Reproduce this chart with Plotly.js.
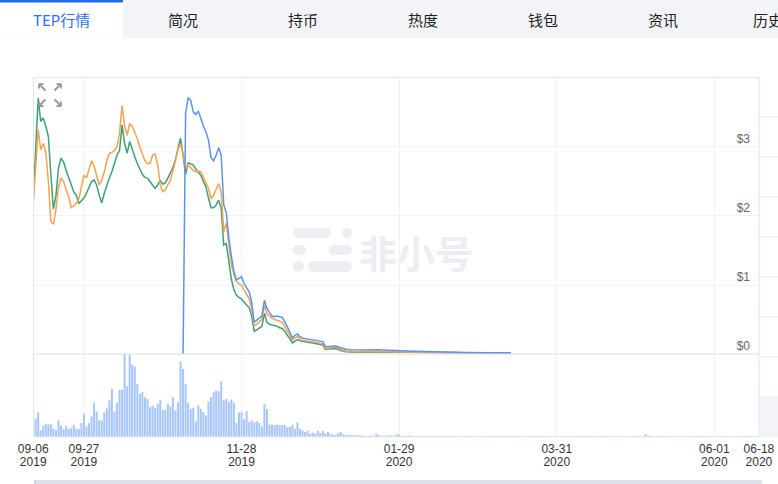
<!DOCTYPE html>
<html><head><meta charset="utf-8">
<script src="https://cdn.plot.ly/plotly-3.0.1.min.js"></script>
<style>html,body{margin:0;padding:0;background:#fff;overflow:hidden}#chart{width:778px;height:484px}</style>
</head><body><div id="chart"></div>
<script>
// ---------------- DATA ----------------
// daily price values start 2019-09-07 (107 days), followed by sparse dates
const dailyStartGO = '2019-09-07';
const dailyStartBlue = '2019-11-05';
const sparseDates = ['2019-12-24','2019-12-26','2019-12-28','2019-12-30','2019-12-31','2020-01-02','2020-01-04','2020-01-06','2020-01-08','2020-01-10','2020-01-12','2020-01-16','2020-01-20','2020-01-25','2020-01-30','2020-02-04','2020-02-10','2020-02-17','2020-02-24','2020-03-05','2020-03-13'];

const greenDaily = [2.20,3.00,3.71,3.37,3.42,3.30,3.15,2.59,2.10,2.30,
 2.70,2.84,2.78,2.66,2.55,2.45,2.35,2.30,2.18,2.22,
 2.26,2.33,2.42,2.50,2.52,2.45,2.30,2.19,2.33,2.45,
 2.55,2.64,2.78,2.88,2.95,3.32,3.05,2.91,3.08,2.95,
 2.86,2.76,2.68,2.60,2.56,2.55,2.50,2.45,2.40,2.45,
 2.52,2.46,2.48,2.55,2.62,2.70,2.82,2.98,3.13,2.88,
 2.60,2.77,2.76,2.74,2.68,2.64,2.59,2.50,2.42,2.26,
 2.12,2.12,2.16,2.23,2.11,1.58,1.60,1.35,1.08,0.93,
 0.85,0.82,0.80,0.75,0.71,0.67,0.55,0.33,0.35,0.37,
 0.40,0.59,0.46,0.43,0.42,0.42,0.40,0.38,0.37,0.33,
 0.28,0.22,0.16,0.19,0.21,0.19,0.18];
const greenSparse = [0.17,0.16,0.145,0.13,0.07,0.075,0.08,0.05,0.033,0.03,0.025,0.027,0.03,0.026,0.024,0.022,0.017,0.016,0.015,0.014,0.013];

const orangeDaily = [2.15,2.75,3.25,2.96,3.05,2.92,2.50,1.92,1.88,2.10,
 2.42,2.55,2.50,2.38,2.28,2.12,2.15,2.18,2.25,2.45,
 2.59,2.55,2.68,2.80,2.72,2.60,2.45,2.52,2.64,2.80,
 2.91,2.92,2.95,3.00,3.20,3.60,3.30,3.17,3.34,3.30,
 3.22,3.12,3.00,2.90,2.80,2.76,2.76,2.88,2.90,2.75,
 2.45,2.35,2.38,2.45,2.52,2.65,2.82,2.96,3.05,2.90,
 2.68,2.74,2.70,2.66,2.64,2.65,2.64,2.55,2.48,2.40,
 2.25,2.30,2.38,2.47,2.35,1.77,1.90,1.55,1.30,1.15,
 1.05,1.02,1.00,0.93,0.86,0.80,0.65,0.41,0.43,0.46,
 0.50,0.71,0.58,0.55,0.52,0.50,0.49,0.48,0.46,0.40,
 0.33,0.27,0.20,0.23,0.25,0.22,0.20];
const orangeSparse = [0.19,0.18,0.165,0.145,0.08,0.09,0.10,0.065,0.043,0.038,0.033,0.035,0.036,0.034,0.03,0.026,0.022,0.02,0.018,0.016,0.015];

const blueDaily = [0,3.49,3.71,3.68,3.51,3.47,3.52,3.40,3.30,3.22,
 3.10,2.85,2.80,2.88,2.99,2.88,2.16,2.05,1.68,1.42,
 1.20,1.07,1.10,1.12,1.02,0.95,0.90,0.75,0.46,0.49,
 0.52,0.55,0.78,0.66,0.60,0.55,0.54,0.55,0.54,0.53,
 0.47,0.40,0.32,0.23,0.27,0.29,0.25,0.23];
const blueSparse = [0.22,0.20,0.19,0.18,0.106,0.11,0.116,0.09,0.068,0.062,0.058,0.058,0.06,0.058,0.048,0.04,0.033,0.025,0.022,0.019,0.017];

// daily volume from 2019-09-07 to 2020-06-18 (relative units)
const volumeStart = '2019-09-07';
const volume = [
 92,55,74,20,34,40,38,38,25,20, 50,34,23,34,25,28,36,25,24,42,
 70,32,42,62,103,77,50,50,74,86, 110,145,77,103,142,142,250,153,248,218,
 212,160,130,135,120,115,90,95,88,100, 112,82,82,100,92,120,80,105,227,205,
 160,102,85,88,47,95,85,75,64,107, 120,135,140,138,167,110,115,105,113,103,
 43,74,75,53,78,45,50,44,48,42, 31,99,84,38,37,36,38,36,36,36,
 30,30,36,24,44,24,20,15,19,10, 13,10,19,12,18,10,15,10,6,7,
 11,15,8,6,6,6,5,5,5,4, 4,3,4,4,4,10,6,4,4,4, 4,5,4,8,7,
 4,3,3,5,3,3,2,3,3,2,3,2,2,3,2,2,3,2,2,2,3,2,2,2,2,2,3,2,2,2,2,
 2,2,2,2,3,2,2,2,2,2,2,2,2,3,2,2,2,2,2,2,2,2,2,2,3,2,2,2,2,2,2,
 2,2,2,2,2,2,2,2,2,2,2,2,2,2,2,2,2,2,2,2,2,2,2,2,2,2,2,2,2,2,
 2,2,2,3,8,4,3,2,2,2,2,2,2,2,2,2,2,2,2,2,2,2,2,2,2,2,2,2,2,2,2,
 2,2,2,2,2,2,2,2,2,2,2,2,2,2,2,2,2,2];

const xRange = ['2019-09-06 23:00', '2020-06-18 14:00'];
const tickVals = ['2019-09-07 01:00','2019-09-27','2019-11-28','2020-01-29','2020-03-31','2020-06-01','2020-06-18 13:00'];
const tickDayText = ['09-06','09-27','11-28','01-29','03-31','06-01','06-18'];
const tickYearText = ['2019','2019','2019','2020','2020','2020','2020'];
const priceTickVals = [0,1,2,3];
const priceTickText = ['$0','$1','$2','$3'];
const tabs = ['TEP行情','简况','持币','热度','钱包','资讯','历史'];
const watermark = '非小号';

// ---------------- HELPERS ----------------
function dailyDates(start, n){
  const out=[]; const d=new Date(start+'T00:00:00Z');
  for(let i=0;i<n;i++){ const t=new Date(d.getTime()+i*86400000); out.push(t.toISOString().slice(0,10)); }
  return out;
}
const W=778,H=484;
const X=px=>px/W, Y=py=>1-py/H;

const goDates = dailyDates(dailyStartGO, greenDaily.length).concat(sparseDates);
const blueDates = dailyDates(dailyStartBlue, blueDaily.length).concat(sparseDates);
const volDates = dailyDates(volumeStart, volume.length);

const traces = [
  {type:'bar', x:volDates, y:volume, xaxis:'x2', yaxis:'y2', marker:{color:'#a9c6fa'}, hoverinfo:'skip'},
  {type:'scatter', mode:'lines', x:goDates, y:greenDaily.concat(greenSparse), line:{color:'#3f9f79', width:1.5}, hoverinfo:'skip'},
  {type:'scatter', mode:'lines', x:goDates, y:orangeDaily.concat(orangeSparse), line:{color:'#f7a24f', width:1.5}, hoverinfo:'skip'},
  {type:'scatter', mode:'lines', x:blueDates, y:blueDaily.concat(blueSparse), line:{color:'#5b93f2', width:1.5}, hoverinfo:'skip'},
  // invisible carrier so the year-label axis is drawn
  {type:'scatter', mode:'lines', x:xRange, y:[0,0], xaxis:'x3', yaxis:'y2', line:{width:0}, hoverinfo:'skip', showlegend:false}
];

const shapes = [];
const rect=(x0,y0,x1,y1,fill,layer)=>shapes.push({type:'rect',xref:'paper',yref:'paper',x0:X(x0),x1:X(x1),y0:Y(y1),y1:Y(y0),fillcolor:fill,line:{width:0},layer:layer||'below'});
const seg=(x0,y0,x1,y1,color,w)=>shapes.push({type:'line',xref:'paper',yref:'paper',x0:X(x0),x1:X(x1),y0:Y(y0),y1:Y(y1),line:{color:color,width:w||1},layer:'above'});
const hline=(x0,x1,y,color)=>seg(x0,y,x1,y,color);
const vline=(x,y0,y1,color)=>seg(x,y0,x,y1,color);
const circ=(x0,y0,x1,y1,fill)=>shapes.push({type:'circle',xref:'paper',yref:'paper',x0:X(x0),x1:X(x1),y0:Y(y1),y1:Y(y0),fillcolor:fill,line:{width:0},layer:'below'});
const pill=(x0,x1,y0,y1,fill)=>{const r=(y1-y0)/2; rect(x0+r,y0,x1-r,y1,fill); circ(x0,y0,x0+2*r,y1,fill); circ(x1-2*r,y0,x1,y1,fill);};

// tab bar
rect(0,0,778,38.5,'#f3f4f8');
rect(0,0,123,38.5,'#ffffff');
rect(0,0,123,2.5,'#1f6ef2');
// right-hand partial panel
rect(760,398,778,437,'#f3f4f8');
[117,157,197,237,277,317,357,397].forEach(y=>hline(760,778,y,'#e0e3eb'));
// watermark logo
const wm='#eceef3';
pill(293,331,228,238,wm); circ(342,228,352,238,wm);
pill(293,306,245,255,wm); pill(329,352,245,255,wm);
circ(293,261,304,272,wm); pill(308,352,261,272,wm);
// chart borders
hline(33,759,77.5,'#e4e6ee');
vline(33.5,77,437,'#e4e6ee');
vline(759,77,437,'#e0e2ec');
hline(33,759,354,'#d6dcea');
hline(33,759,437,'#eceef3');
// bottom slider
rect(34,480,762,484,'#dde2ea');
vline(35,480,484,'#c5cad4');
// expand icon (four corner arrows)
const ic='#8e98a6';
[[39,84,1,1],[61,84,-1,1],[39,106,1,-1],[61,106,-1,-1]].forEach(a=>{
  const [tx,ty,sx,sy]=a;
  seg(tx,ty,tx+sx*6.5,ty+sy*6.5,ic,1.8);
  seg(tx,ty,tx+sx*4.5,ty,ic,1.8);
  seg(tx,ty,tx,ty+sy*4.5,ic,1.8);
});

const annotations = [];
const tabX=[61,183,303,423,543,663,751];
tabs.forEach((t,i)=>annotations.push({xref:'paper',yref:'paper',x:X(tabX[i]),y:Y(20),text:t,showarrow:false,
  xanchor:i===tabs.length-1?'left':'center',yanchor:'middle',
  font:{family:'"Noto Sans CJK SC", sans-serif',size:15,color:i===0?'#2e6cf4':'#1e1e1e'}}));
annotations.push({xref:'paper',yref:'paper',x:X(416),y:Y(251),text:watermark,showarrow:false,xanchor:'center',yanchor:'middle',
  font:{family:'"Noto Sans CJK SC", sans-serif',size:38,color:'#eceef3',weight:700}});

const grid='#f1f2f5';
const tickFont={family:'"Liberation Sans", Arial, sans-serif', size:12, color:'#333'};
const layout = {
  width:W, height:H, margin:{l:0,r:0,t:0,b:0}, paper_bgcolor:'#ffffff', plot_bgcolor:'rgba(0,0,0,0)',
  showlegend:false, bargap:0.2,
  xaxis:{type:'date', domain:[X(33),X(759)], range:xRange, anchor:'y', tickvals:tickVals, showticklabels:false,
    showgrid:true, gridcolor:grid, zeroline:false, showline:false, ticks:''},
  yaxis:{domain:[Y(354),Y(77.5)], range:[0,4.007], anchor:'x', side:'right', tickvals:priceTickVals, ticktext:priceTickText,
    ticklabelposition:'inside top', tickfont:{family:'"Liberation Sans", Arial, sans-serif', size:12, color:'#666'},
    showgrid:true, gridcolor:grid, zeroline:false, showline:false, ticks:'', ticklabelstandoff:6},
  xaxis2:{type:'date', domain:[X(33),X(759)], range:xRange, anchor:'y2', tickvals:tickVals, ticktext:tickDayText,
    tickfont:tickFont, ticklabelstandoff:3,
    showgrid:true, gridcolor:grid, zeroline:false, showline:false, ticks:''},
  xaxis3:{type:'date', overlaying:'x2', anchor:'y2', side:'bottom', range:xRange, tickvals:tickVals, ticktext:tickYearText,
    tickfont:tickFont, ticklabelstandoff:16, showgrid:false, zeroline:false, showline:false, ticks:''},
  yaxis2:{domain:[Y(437),Y(354)], range:[0,250], anchor:'x2', showticklabels:false, showgrid:false, zeroline:false, ticks:''},
  shapes:shapes, annotations:annotations
};
Plotly.newPlot('chart', traces, layout, {staticPlot:true, displayModeBar:false});
</script></body></html>
